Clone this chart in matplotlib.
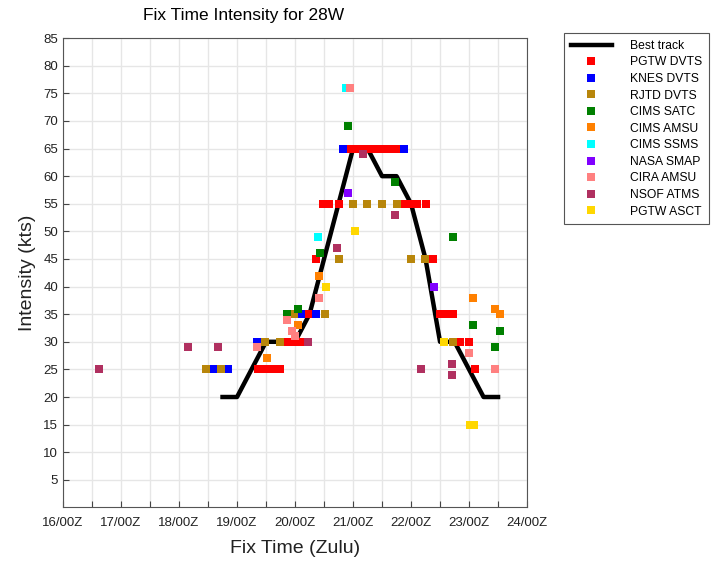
import matplotlib
matplotlib.use('Agg')
import matplotlib.pyplot as plt
import numpy as np

plt.rcParams['font.family'] = ['Liberation Sans', 'DejaVu Sans']

# best track (day of month, kts)
bt_time = [18.75, 19.0, 19.25, 19.5, 19.75, 20.0, 20.25, 20.5, 20.75, 21.0, 21.25,
           21.5, 21.75, 22.0, 22.25, 22.5, 22.75, 23.0, 23.25, 23.5]
bt_vmax = [20, 20, 25, 30, 30, 30, 35, 45, 55, 65, 65, 60, 60, 55, 45, 30, 30, 25, 20, 20]

# fixes
pgtw_dvts_t = [19.36, 19.48, 19.60, 19.74, 19.88, 20.0, 20.12, 20.23, 20.36, 20.49, 20.58, 20.75,
               20.92, 21.0, 21.12, 21.25, 21.38, 21.5, 21.62, 21.75, 21.83,
               21.88, 21.99, 22.11, 22.25, 22.37, 22.50, 22.62, 22.73, 22.85, 23.0, 23.11]
pgtw_dvts_v = [25, 25, 25, 25, 30, 30, 30, 35, 45, 55, 55, 55,
               65, 65, 65, 65, 65, 65, 65, 65, 65,
               55, 55, 55, 55, 45, 35, 35, 35, 30, 30, 25]

knes_dvts_t = [18.58, 18.84, 19.34, 20.10, 20.36, 20.82, 21.87]
knes_dvts_v = [25, 25, 30, 35, 35, 65, 65]

rjtd_dvts_t = [18.47, 18.73, 19.48, 19.74, 19.99, 20.51, 20.75, 21.0, 21.24, 21.5, 21.75,
               22.0, 22.24, 22.73]
rjtd_dvts_v = [25, 25, 30, 30, 35, 35, 45, 55, 55, 55, 55, 45, 45, 30]

cims_satc_t = [19.86, 20.05, 20.43, 20.92, 21.72, 22.73, 23.07, 23.54, 23.45]
cims_satc_v = [35, 36, 46, 69, 59, 49, 33, 32, 29]

cims_amsu_t = [19.51, 20.05, 20.42, 23.07, 23.45, 23.54]
cims_amsu_v = [27, 33, 42, 38, 36, 35]

cims_ssms_t = [20.40, 20.88]
cims_ssms_v = [49, 76]

nasa_smap_t = [20.92, 22.39]
nasa_smap_v = [57, 40]

cira_amsu_t = [19.34, 19.86, 19.94, 20.0, 20.42, 20.94, 23.0, 23.45]
cira_amsu_v = [29, 34, 32, 31, 38, 76, 28, 25]

nsof_atms_t = [16.62, 18.15, 18.67, 20.23, 20.73, 21.18, 21.72, 22.18, 22.70, 22.70]
nsof_atms_v = [25, 29, 29, 30, 47, 64, 53, 25, 26, 24]

pgtw_asct_t = [20.53, 21.04, 22.56, 23.02, 23.08]
pgtw_asct_v = [40, 50, 30, 15, 15]

days = [16, 17, 18, 19, 20, 21, 22, 23, 24]
day_labels = ['%d/00Z' % d for d in days]

fig = plt.figure(figsize=(7.21, 5.61), dpi=100)
ax = fig.add_axes([0.0874, 0.0955, 0.6436, 0.8365])

ax.plot(bt_time, bt_vmax, color='black', lw=3.2, label='Best track', zorder=2)

series = [
    (pgtw_dvts_t, pgtw_dvts_v, '#ff0000', 'PGTW DVTS'),
    (knes_dvts_t, knes_dvts_v, '#0000ff', 'KNES DVTS'),
    (rjtd_dvts_t, rjtd_dvts_v, '#b8860b', 'RJTD DVTS'),
    (cims_satc_t, cims_satc_v, '#008000', 'CIMS SATC'),
    (cims_amsu_t, cims_amsu_v, '#ff8000', 'CIMS AMSU'),
    (cims_ssms_t, cims_ssms_v, '#00ffff', 'CIMS SSMS'),
    (nasa_smap_t, nasa_smap_v, '#8000ff', 'NASA SMAP'),
    (cira_amsu_t, cira_amsu_v, '#ff8080', 'CIRA AMSU'),
    (nsof_atms_t, nsof_atms_v, '#b03060', 'NSOF ATMS'),
    (pgtw_asct_t, pgtw_asct_v, '#ffd700', 'PGTW ASCT'),
]
for t, v, c, name in series:
    ax.plot(t, v, ls='none', marker='s', ms=5.2, mew=0, color=c, label=name, zorder=3)

ax.set_xlim(16, 24)
ax.set_ylim(0, 85)
ax.set_xticks(np.arange(16, 24.01, 0.5))
ax.set_xticklabels([day_labels[i // 2] if i % 2 == 0 else '' for i in range(17)], fontsize=9.5)
ax.set_yticks(np.arange(5, 86, 5))
ax.tick_params(axis='y', labelsize=9.5)
ax.tick_params(direction='in', length=4, width=0.8, color='#444444', labelcolor='#222222',
               top=False, right=False)
ax.tick_params(axis='x', pad=7)
ax.grid(True, color='#e6e6e6', lw=1)
ax.set_axisbelow(True)
for s in ax.spines.values():
    s.set_color('#555555')
    s.set_linewidth(0.8)

fig.text(0.338, 0.972, 'Fix Time Intensity for 28W', fontsize=12.5, ha='center', va='center')
ax.set_xlabel('Fix Time (Zulu)', fontsize=14, labelpad=8, color='#222222')
ax.set_ylabel('Intensity (kts)', fontsize=14, labelpad=5, color='#222222')

leg = fig.legend(loc='upper left', bbox_to_anchor=(0.7825, 0.941), fontsize=8.7,
                 handlelength=3.4, labelspacing=0.38, fancybox=False, framealpha=1,
                 edgecolor='#555555', borderpad=0.55, handletextpad=1.5, borderaxespad=0)
leg.get_frame().set_linewidth(0.8)

fig.savefig('out.png', dpi=100)
